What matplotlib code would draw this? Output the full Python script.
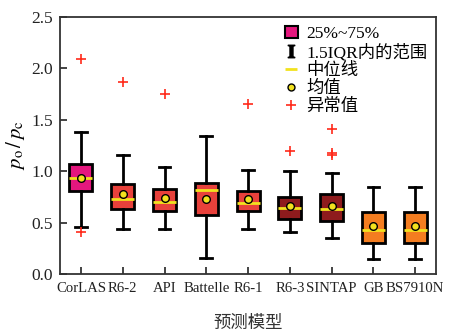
import matplotlib
matplotlib.use('Agg')
import matplotlib.pyplot as plt
from matplotlib.patches import Patch
from matplotlib.lines import Line2D

plt.rcParams['font.family'] = ['Liberation Serif', 'Noto Sans CJK SC']
plt.rcParams['mathtext.fontset'] = 'stix'

models = ['CorLAS', 'R6-2', 'API', 'Battelle', 'R6-1', 'R6-3', 'SINTAP', 'GB', 'BS7910N']
whislo = [0.46, 0.44, 0.44, 0.156, 0.435, 0.412, 0.353, 0.149, 0.149]
q1 = [0.811, 0.636, 0.617, 0.571, 0.613, 0.539, 0.516, 0.305, 0.305]
med = [0.93, 0.733, 0.70, 0.818, 0.694, 0.643, 0.636, 0.428, 0.428]
q3 = [1.074, 0.876, 0.825, 0.883, 0.81, 0.747, 0.776, 0.604, 0.604]
whishi = [1.386, 1.156, 1.04, 1.344, 1.01, 1.006, 0.986, 0.85, 0.85]
means = [0.93, 0.78, 0.737, 0.733, 0.727, 0.662, 0.665, 0.464, 0.464]
fliers = [[2.09, 0.41], [1.87], [1.756], [], [1.655], [1.2], [1.41, 1.175, 1.16], [], []]
colors = ['#e5177e', '#e8413b', '#e8413b', '#e8413b', '#e8413b',
          '#8e1b1d', '#8e1b1d', '#f47d20', '#f47d20']

stats = []
for i, name in enumerate(models):
    stats.append(dict(label=name, whislo=whislo[i], q1=q1[i], med=med[i], q3=q3[i],
                      whishi=whishi[i], mean=means[i], fliers=fliers[i]))

fig = plt.figure(figsize=(4.62, 3.35), dpi=100)
ax = fig.add_axes([0.13, 0.182, 0.814, 0.767])

bp = ax.bxp(stats, widths=0.55, showmeans=True, patch_artist=True,
            boxprops=dict(linewidth=2, edgecolor='black'),
            whiskerprops=dict(linewidth=2, color='black'),
            capprops=dict(linewidth=2, color='black'),
            medianprops=dict(linewidth=2, color='#f2e21e'),
            meanprops=dict(marker='o', markerfacecolor='#f2e21e', markeredgecolor='black',
                           markersize=5.5, markeredgewidth=1),
            flierprops=dict(marker='+', markeredgecolor='#ff2a1a', markersize=7,
                            markeredgewidth=1.2))
for patch, c in zip(bp['boxes'], colors):
    patch.set_facecolor(c)
# shorter caps than the box width
for cap in bp['caps']:
    x = cap.get_xdata()
    mid = (x[0] + x[1]) / 2
    cap.set_xdata([mid - 0.14, mid + 0.14])

ax.set_xlim(0.5, 9.5)
ax.set_ylim(0, 2.5)
ax.set_yticks([0, 0.5, 1.0, 1.5, 2.0, 2.5])
ax.set_yticklabels(['0.0', '0.5', '1.0', '1.5', '2.0', '2.5'])
ax.tick_params(direction='in', length=5, width=1.2, colors='#222222', pad=5)
ax.tick_params(axis='y', labelsize=12.5)
ax.tick_params(axis='x', labelsize=10.6, pad=6)
for s in ax.spines.values():
    s.set_linewidth(1.3)
    s.set_color('#333333')

ax.set_ylabel(r'$p_\mathrm{o}\,/\,p_\mathrm{c}$', fontsize=15, labelpad=3)
ax.set_xlabel('预测模型', fontsize=12.5, labelpad=15, color='#333333')

handles = [
    Patch(facecolor='#e5177e', edgecolor='black', linewidth=1.5),
    Line2D([], [], marker='$\\mathbf{I}$', color='black', linestyle='none', markersize=9),
    Line2D([], [], marker='_', color='#f2e21e', linestyle='none', markersize=9, markeredgewidth=2),
    Line2D([], [], marker='o', markerfacecolor='#f2e21e', markeredgecolor='black',
           linestyle='none', markersize=5),
    Line2D([], [], marker='+', color='#ff2a1a', linestyle='none', markersize=7, markeredgewidth=1.2),
]
labels = ['25%~75%', '1.5IQR内的范围', '中位线', '均值', '异常值']
ax.legend(handles, labels, loc='upper right', bbox_to_anchor=(1.0, 1.0), frameon=False,
          fontsize=12.5, handlelength=0.7, handleheight=0.7, handletextpad=0.5,
          labelspacing=0.1, borderaxespad=0.1)

fig.savefig('out.png', dpi=100)
